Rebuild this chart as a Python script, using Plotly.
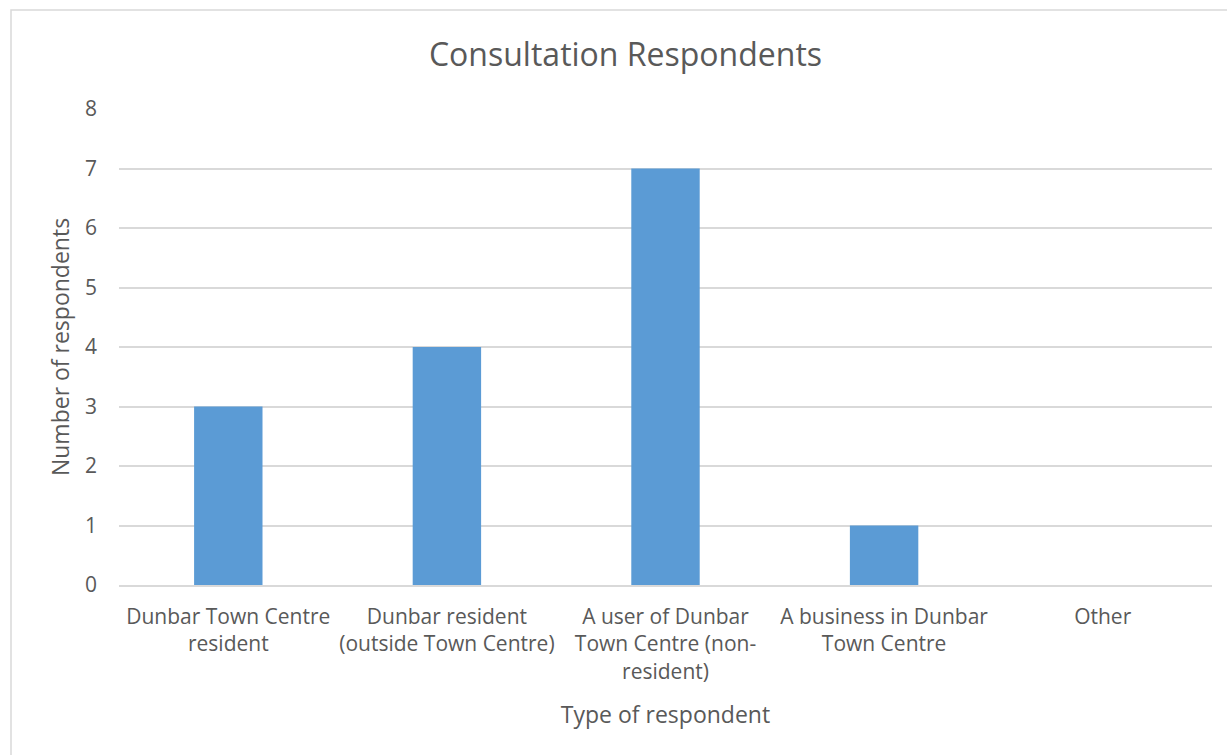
import plotly.graph_objects as go

categories = [
    "Dunbar Town Centre<br>resident",
    "Dunbar resident<br>(outside Town Centre)",
    "A user of Dunbar<br>Town Centre (non-<br>resident)",
    "A business in Dunbar<br>Town Centre",
    "Other",
]
respondents = [3, 4, 7, 1, 0]
y_ticks = [0, 1, 2, 3, 4, 5, 6, 7, 8]

TEXT = "#595959"
GRID = "#D9D9D9"
FONT = "Open Sans"

fig = go.Figure(
    go.Bar(
        x=categories,
        y=respondents,
        marker=dict(color="#5B9BD5", line=dict(width=0)),
        hoverinfo="x+y",
    )
)

fig.update_layout(
    width=1227,
    height=755,
    margin=dict(l=119, r=15, t=109, b=170),
    paper_bgcolor="white",
    plot_bgcolor="white",
    bargap=0.687,
    showlegend=False,
    font=dict(family=FONT, color=TEXT, size=21),
    title=dict(
        text="Consultation Respondents",
        x=625.5 / 1227,
        xref="container",
        xanchor="center",
        y=1 - 55 / 755,
        yref="container",
        yanchor="middle",
        font=dict(family=FONT, size=32, color=TEXT),
    ),
    shapes=[
        dict(
            type="rect", xref="paper", yref="paper",
            x0=(11 - 119) / 1093, x1=1.2, y0=-0.6, y1=1 + (109 - 10) / 476,
            line=dict(color=GRID, width=1.5), fillcolor="rgba(0,0,0,0)", layer="below",
        )
    ],
)

fig.update_xaxes(
    showgrid=False,
    showline=True,
    linecolor=GRID,
    linewidth=1.5,
    ticks="",
    ticklabelstandoff=12,
    tickfont=dict(family=FONT, size=21, color=TEXT),
    title=dict(text="Type of respondent", font=dict(family=FONT, size=23, color=TEXT), standoff=23),
)
fig.update_yaxes(
    range=[0, 8],
    tickvals=y_ticks,
    showgrid=True,
    gridcolor=GRID,
    gridwidth=1.5,
    zeroline=False,
    showline=False,
    ticks="",
    ticklabelstandoff=21,
    tickfont=dict(family=FONT, size=21, color=TEXT),
    title=dict(text="Number of respondents", font=dict(family=FONT, size=23, color=TEXT), standoff=8),
)

fig.write_html("out.html")
